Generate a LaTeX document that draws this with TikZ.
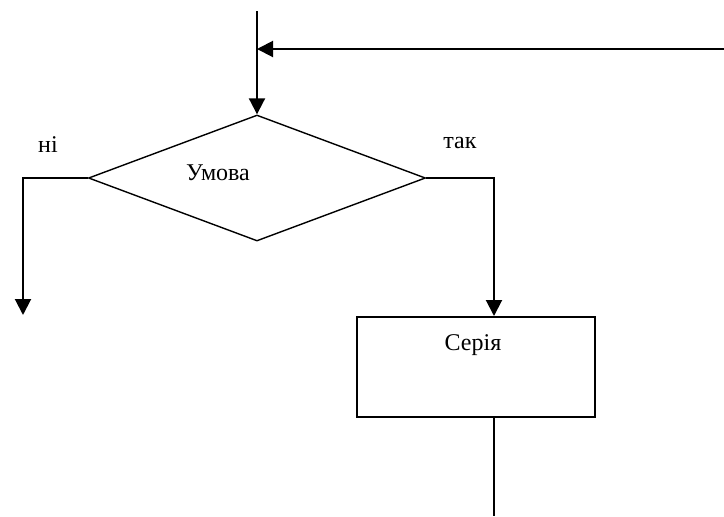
\documentclass[tikz,border=0pt]{standalone}
\usepackage{fontspec}
\setmainfont{Liberation Serif}
\usetikzlibrary{arrows.meta,shapes.geometric}

\begin{document}
\begin{tikzpicture}[x=0.5pt, y=-0.5pt,
    line/.style={line width=1pt},
    arr/.style={line, -{Triangle[length=8pt,width=8pt]}},
    lbl/.style={font=\fontsize{12}{14}\selectfont, inner sep=0pt}]
    \useasboundingbox (0,0) rectangle (724,516);

    % Define coordinates
    \coordinate (top) at (257,11);
    \coordinate (back) at (724,49);
    \coordinate (join) at (257,49);
    \coordinate (no) at (23,315);
    \coordinate (yes) at (494,178);
    \coordinate (out) at (494,516);

    % Condition and series
    \node[diamond, draw, line width=0.7pt, inner sep=0pt,
          minimum width=168.5pt, minimum height=63pt] (cond) at (257,178) {};
    \node[draw, line, minimum width=119pt, minimum height=50pt] (series) at (476,367) {};

    % Labels
    \node[lbl] (condtext) at (218,173) {Умова};
    \node[lbl] (seriestext) at (473,345) {Серія};
    \node[lbl] (notext) at (48,145) {ні};
    \node[lbl] (yestext) at (460,143) {так};

    % Incoming lines
    \draw[arr] (top) -- (cond.north);
    \draw[arr] (back) -- (join);

    % Branches
    \draw[arr] (cond.west) -| (no);
    \draw[arr] (cond.east) -| (yes |- series.north);
    \draw[line] (yes |- series.south) -- (out);
\end{tikzpicture}
\end{document}
